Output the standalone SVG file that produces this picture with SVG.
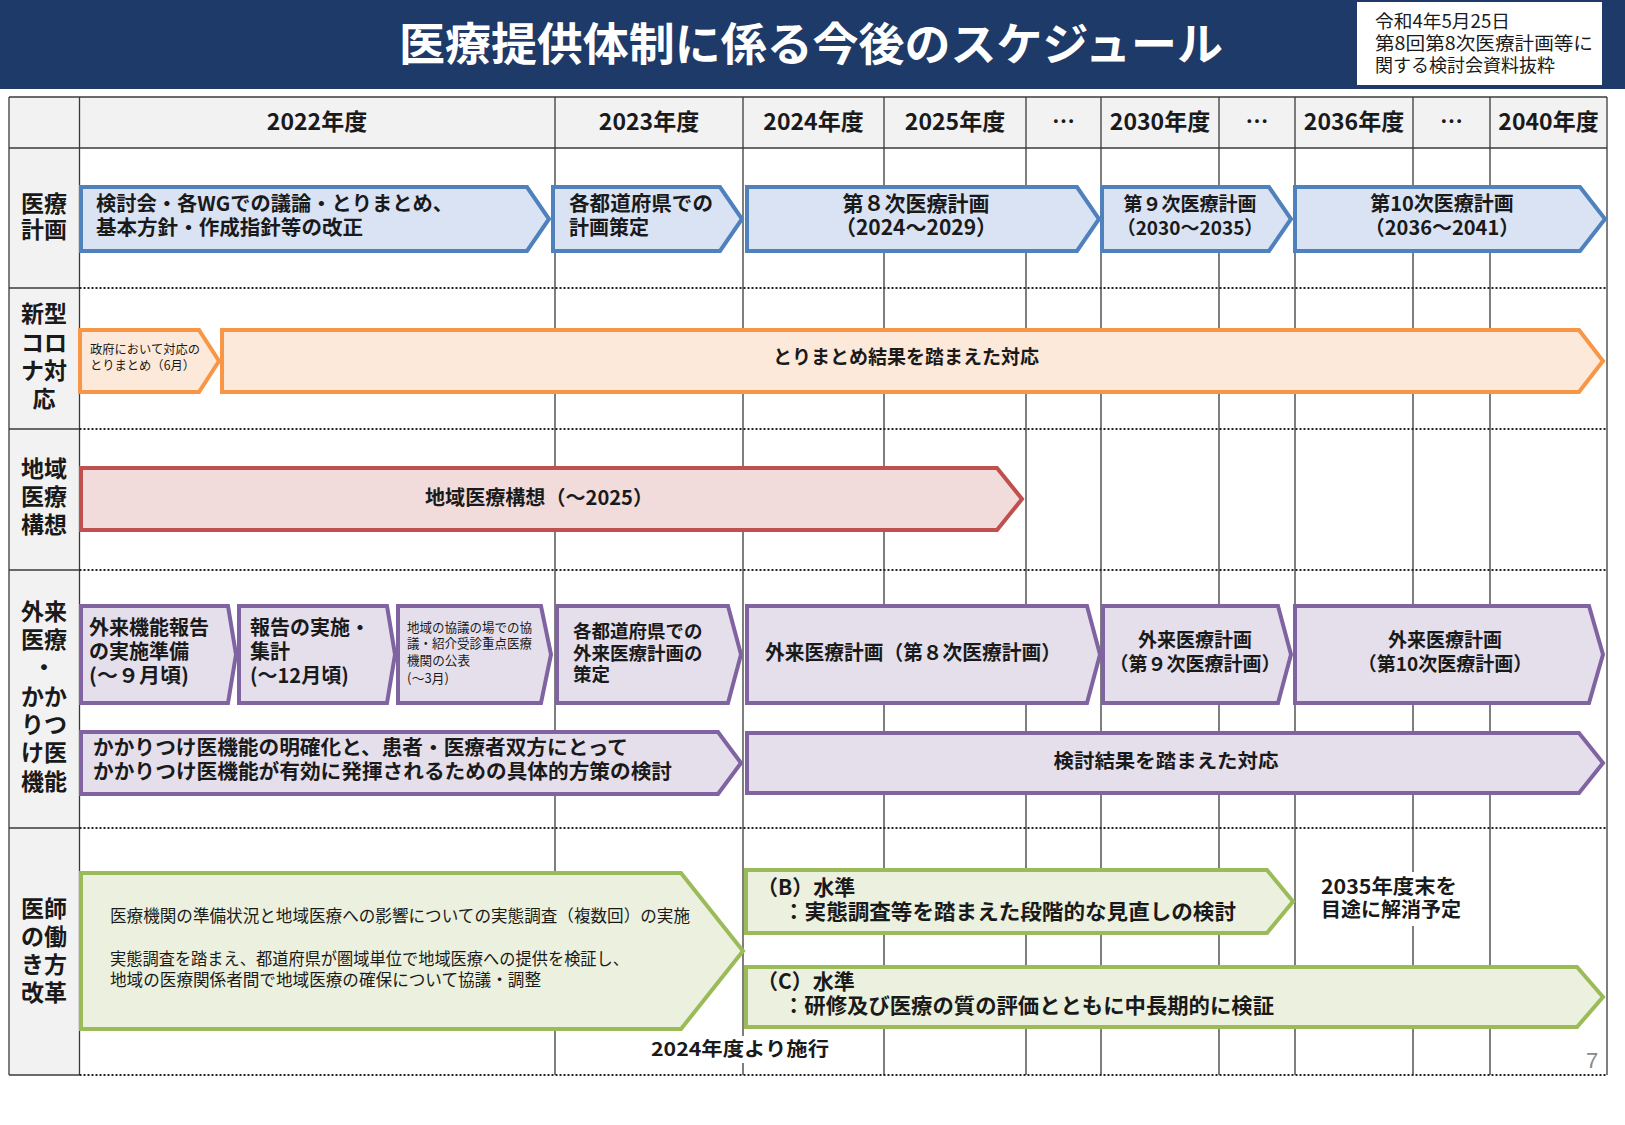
<svg xmlns="http://www.w3.org/2000/svg" width="1625" height="1125" viewBox="0 0 1625 1125">
<style>
text{font-family:"Noto Sans CJK JP","Noto Sans",sans-serif;fill:#1a1a1a}
.hd{font-size:23px;font-weight:bold;text-anchor:middle}
.rl{font-size:23px;font-weight:bold;text-anchor:middle}
.c{text-anchor:middle}
.grid{stroke:#3a3a3a;stroke-width:1.3;fill:none}
.dot{stroke:#222;stroke-width:2;stroke-dasharray:2 2;fill:none}
.blue{fill:#dae3f3;stroke:#4f81bd;stroke-width:4}
.orange{fill:#fde9d9;stroke:#f79646;stroke-width:4}
.red{fill:#f2dcdb;stroke:#c0504d;stroke-width:4}
.purple{fill:#e5dfec;stroke:#8064a2;stroke-width:4}
.green{fill:#ebf1de;stroke:#9bbb59;stroke-width:4}
.t20{font-size:20px;font-weight:bold}
.t19{font-size:19px;font-weight:bold}
.t21{font-size:21px;font-weight:bold}
</style>
<rect width="1625" height="1125" fill="#ffffff"/>
<g id="header-band">
<rect x="0" y="0" width="1625" height="89" fill="#1e3a68"/>
<text x="811" y="61" font-size="45" font-weight="bold" text-anchor="middle" style="fill:#ffffff" textLength="824" lengthAdjust="spacingAndGlyphs">医療提供体制に係る今後のスケジュール</text>
<rect x="1357" y="2" width="245" height="83" fill="#ffffff"/>
<text font-size="18"><tspan x="1375" y="28" textLength="135" lengthAdjust="spacingAndGlyphs">令和4年5月25日</tspan><tspan x="1375" y="50" textLength="218" lengthAdjust="spacingAndGlyphs">第8回第8次医療計画等に</tspan><tspan x="1375" y="72">関する検討会資料抜粋</tspan></text>
</g>
<g id="table">
<rect x="9" y="97" width="1598" height="51" fill="#f2f2f2"/>
<rect x="9" y="148" width="70.5" height="927" fill="#f2f2f2"/>
<g class="grid">
<line x1="9" y1="97" x2="1607" y2="97"/>
<line x1="9" y1="148" x2="1607" y2="148"/>
<line x1="9" y1="97" x2="9" y2="1075"/>
<line x1="1607" y1="97" x2="1607" y2="1075"/>
<line x1="79.5" y1="97" x2="79.5" y2="1075"/>
<line x1="555" y1="97" x2="555" y2="1075"/>
<line x1="743" y1="97" x2="743" y2="1075"/>
<line x1="884" y1="97" x2="884" y2="1075"/>
<line x1="1026" y1="97" x2="1026" y2="1075"/>
<line x1="1101" y1="97" x2="1101" y2="1075"/>
<line x1="1219" y1="97" x2="1219" y2="1075"/>
<line x1="1295" y1="97" x2="1295" y2="1075"/>
<line x1="1413" y1="97" x2="1413" y2="1075"/>
<line x1="1490" y1="97" x2="1490" y2="1075"/>
<line x1="9" y1="288" x2="79.5" y2="288"/>
<line x1="9" y1="429" x2="79.5" y2="429"/>
<line x1="9" y1="570" x2="79.5" y2="570"/>
<line x1="9" y1="828" x2="79.5" y2="828"/>
<line x1="9" y1="1075" x2="79.5" y2="1075"/>
</g>
<g class="dot">
<line x1="79.5" y1="288" x2="1607" y2="288"/>
<line x1="79.5" y1="429" x2="1607" y2="429"/>
<line x1="79.5" y1="570" x2="1607" y2="570"/>
<line x1="79.5" y1="828" x2="1607" y2="828"/>
<line x1="79.5" y1="1075" x2="1607" y2="1075"/>
</g>
<text class="hd" x="317" y="130">2022年度</text>
<text class="hd" x="649" y="130">2023年度</text>
<text class="hd" x="813.5" y="130">2024年度</text>
<text class="hd" x="955" y="130">2025年度</text>
<text class="hd" x="1063.5" y="130">…</text>
<text class="hd" x="1160" y="130">2030年度</text>
<text class="hd" x="1257" y="130">…</text>
<text class="hd" x="1354" y="130">2036年度</text>
<text class="hd" x="1451.5" y="130">…</text>
<text class="hd" x="1548.5" y="130">2040年度</text>
<g id="row-labels">
<text class="rl"><tspan x="44" y="212">医療</tspan><tspan x="44" y="238">計画</tspan></text>
<text class="rl"><tspan x="44" y="322">新型</tspan><tspan x="44" y="351">コロ</tspan><tspan x="44" y="379">ナ対</tspan><tspan x="44" y="407">応</tspan></text>
<text class="rl"><tspan x="44" y="477">地域</tspan><tspan x="44" y="505">医療</tspan><tspan x="44" y="533">構想</tspan></text>
<text class="rl"><tspan x="44" y="620">外来</tspan><tspan x="44" y="648">医療</tspan><tspan x="44" y="676">・</tspan><tspan x="44" y="705">かか</tspan><tspan x="44" y="733">りつ</tspan><tspan x="44" y="761">け医</tspan><tspan x="44" y="790">機能</tspan></text>
<text class="rl"><tspan x="44" y="917">医師</tspan><tspan x="44" y="945">の働</tspan><tspan x="44" y="973">き方</tspan><tspan x="44" y="1001">改革</tspan></text>
</g>
</g>
<g id="connectors"></g>
<g id="plan-a"><path class="blue" d="M81 187H527L549 219L527 251H81Z"/>
<text class="t20"><tspan x="96" y="211" textLength="357" lengthAdjust="spacingAndGlyphs">検討会・各WGでの議論・とりまとめ、</tspan><tspan x="96" y="235" textLength="267" lengthAdjust="spacingAndGlyphs">基本方針・作成指針等の改正</tspan></text></g>
<g id="plan-b"><path class="blue" d="M553 187H720L742 219L720 251H553Z"/>
<text class="t20"><tspan x="569" y="211" textLength="144" lengthAdjust="spacingAndGlyphs">各都道府県での</tspan><tspan x="569" y="235">計画策定</tspan></text></g>
<g id="plan-8"><path class="blue" d="M747 187H1077L1099 219L1077 251H747Z"/>
<text class="t21 c"><tspan x="916" y="211">第８次医療計画</tspan><tspan x="916" y="235">（2024～2029）</tspan></text></g>
<g id="plan-9"><path class="blue" d="M1102 187H1269L1291 219L1269 251H1102Z"/>
<text class="t19 c"><tspan x="1190" y="211">第９次医療計画</tspan><tspan x="1190" y="235">（2030～2035）</tspan></text></g>
<g id="plan-10"><path class="blue" d="M1295 187H1580L1605 219L1580 251H1295Z"/>
<text class="t20 c"><tspan x="1442" y="211">第10次医療計画</tspan><tspan x="1442" y="235">（2036～2041）</tspan></text></g>
<g id="covid-a"><path class="orange" d="M80 330H199L219 361L199 392H80Z"/>
<text font-size="12.5"><tspan x="90" y="354" textLength="110" lengthAdjust="spacingAndGlyphs">政府において対応の</tspan><tspan x="90" y="370" textLength="105" lengthAdjust="spacingAndGlyphs">とりまとめ（6月）</tspan></text></g>
<g id="covid-b"><path class="orange" d="M222 330H1579L1603 361L1579 392H222Z"/>
<text class="t19 c" x="906" y="364">とりまとめ結果を踏まえた対応</text></g>
<g id="regional"><path class="red" d="M81 468H997L1022 499L997 530H81Z"/>
<text class="t20 c" x="539" y="505" textLength="228" lengthAdjust="spacingAndGlyphs">地域医療構想（～2025）</text></g>
<g id="out-1"><path class="purple" d="M81 606H228L236 654.5L228 703H81Z"/>
<text class="t20"><tspan x="89" y="635">外来機能報告</tspan><tspan x="89" y="659">の実施準備</tspan><tspan x="89" y="683" textLength="100" lengthAdjust="spacingAndGlyphs">(～９月頃)</tspan></text></g>
<g id="out-2"><path class="purple" d="M239 606H387L395 654.5L387 703H239Z"/>
<text class="t20"><tspan x="250" y="635">報告の実施・</tspan><tspan x="250" y="659">集計</tspan><tspan x="250" y="683">(～12月頃)</tspan></text></g>
<g id="out-3"><path class="purple" d="M398 606H541L551 654.5L541 703H398Z"/>
<text font-size="13"><tspan x="407" y="632" textLength="125" lengthAdjust="spacingAndGlyphs">地域の協議の場での協</tspan><tspan x="407" y="648" textLength="125" lengthAdjust="spacingAndGlyphs">議・紹介受診重点医療</tspan><tspan x="407" y="665" textLength="63" lengthAdjust="spacingAndGlyphs">機関の公表</tspan><tspan x="407" y="683">(～3月)</tspan></text></g>
<g id="out-4"><path class="purple" d="M557 606H728L741 654.5L728 703H557Z"/>
<text font-size="18.5" font-weight="bold"><tspan x="573" y="638">各都道府県での</tspan><tspan x="573" y="660">外来医療計画の</tspan><tspan x="573" y="681">策定</tspan></text></g>
<g id="out-8"><path class="purple" d="M747 606H1087L1100 654.5L1087 703H747Z"/>
<text class="t20" x="765" y="660" textLength="296" lengthAdjust="spacingAndGlyphs">外来医療計画（第８次医療計画）</text></g>
<g id="out-9"><path class="purple" d="M1103 606H1278L1291 654.5L1278 703H1103Z"/>
<text class="t19 c"><tspan x="1195" y="647">外来医療計画</tspan><tspan x="1195" y="671">（第９次医療計画）</tspan></text></g>
<g id="out-10"><path class="purple" d="M1295 606H1589L1603 654.5L1589 703H1295Z"/>
<text class="t19 c"><tspan x="1445" y="647">外来医療計画</tspan><tspan x="1445" y="671">（第10次医療計画）</tspan></text></g>
<g id="kakari-a"><path class="purple" d="M81 732H718L741 763L718 794H81Z"/>
<text font-size="20" font-weight="bold"><tspan x="93" y="755" textLength="535" lengthAdjust="spacingAndGlyphs">かかりつけ医機能の明確化と、患者・医療者双方にとって</tspan><tspan x="93" y="779" textLength="579" lengthAdjust="spacingAndGlyphs">かかりつけ医機能が有効に発揮されるための具体的方策の検討</tspan></text></g>
<g id="kakari-b"><path class="purple" d="M747 733H1579L1603 763L1579 793H747Z"/>
<text class="t19 c" x="1166" y="768" textLength="225" lengthAdjust="spacingAndGlyphs">検討結果を踏まえた対応</text></g>
<g id="work-a"><path class="green" d="M81 873H681L743 951L681 1029H81Z"/>
<text font-size="16.5"><tspan x="110" y="922" textLength="580" lengthAdjust="spacingAndGlyphs">医療機関の準備状況と地域医療への影響についての実態調査（複数回）の実施</tspan><tspan x="110" y="965" textLength="519" lengthAdjust="spacingAndGlyphs">実態調査を踏まえ、都道府県が圏域単位で地域医療への提供を検証し、</tspan><tspan x="110" y="986" textLength="431" lengthAdjust="spacingAndGlyphs">地域の医療関係者間で地域医療の確保について協議・調整</tspan></text></g>
<g id="work-b"><path class="green" d="M746 870H1267L1293 901.5L1267 933H746Z"/>
<text class="t21"><tspan x="757" y="895">（B）水準</tspan><tspan x="783" y="919" textLength="453" lengthAdjust="spacingAndGlyphs">：実態調査等を踏まえた段階的な見直しの検討</tspan></text></g>
<g id="work-c"><path class="green" d="M746 967H1577L1603 997L1577 1027H746Z"/>
<text class="t21"><tspan x="757" y="989">（C）水準</tspan><tspan x="783" y="1013" textLength="491" lengthAdjust="spacingAndGlyphs">：研修及び医療の質の評価とともに中長期的に検証</tspan></text></g>
<g id="note-2035">
<rect x="1316" y="872" width="154" height="54" fill="#ffffff"/>
<text class="t20"><tspan x="1321" y="894" textLength="136" lengthAdjust="spacingAndGlyphs">2035年度末を</tspan><tspan x="1321" y="917">目途に解消予定</tspan></text></g>
<g id="note-2024">
<rect x="648" y="1036" width="184" height="27" fill="#ffffff"/>
<text class="t19 c" x="740" y="1056" textLength="178" lengthAdjust="spacingAndGlyphs">2024年度より施行</text></g>
<text x="1592" y="1068" font-size="22" text-anchor="middle" style="fill:#8a8a8a;font-family:'Liberation Sans',sans-serif">7</text>
</svg>
